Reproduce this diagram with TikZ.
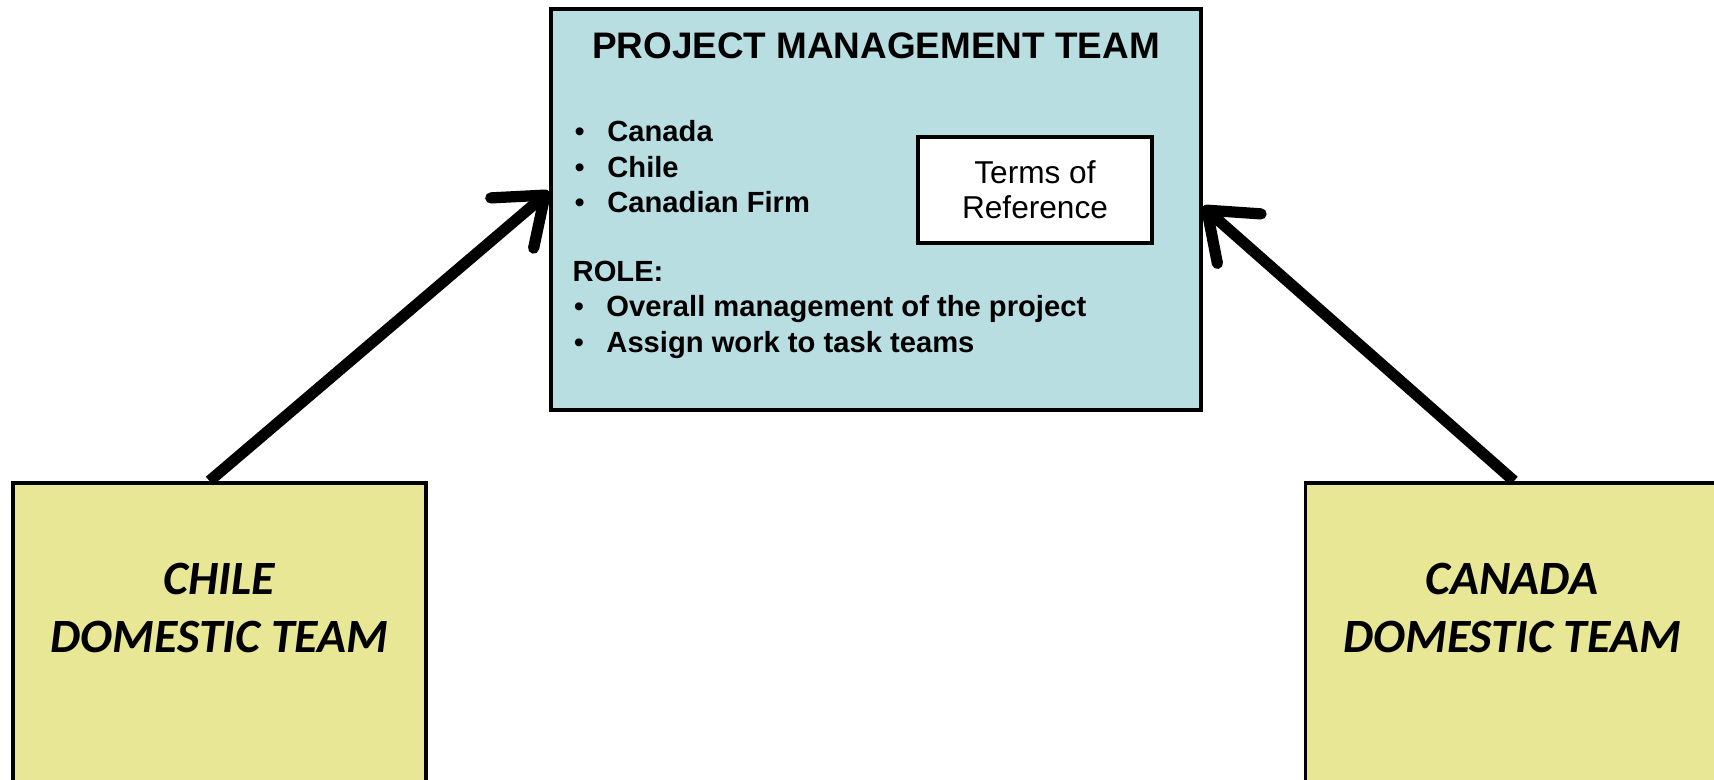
\documentclass[tikz,border=0pt]{standalone}
\usepackage{fontspec}
\setmainfont{Liberation Sans}
\newfontfamily\teamfont{Carlito}
\usetikzlibrary{positioning}
\usetikzlibrary{arrows.meta}

\definecolor{pmtblue}{RGB}{185,222,226}
\definecolor{teamyellow}{RGB}{232,231,150}

\newcommand{\pmtitem}[1]{\makebox[9.3pt][l]{\mdseries\textbullet}#1}

\begin{document}
\begin{tikzpicture}[
				teambox/.style={draw,line width=1pt,fill=teamyellow,
					minimum width=4.13cm,minimum height=4cm,anchor=north},
				teamtext/.style={font=\teamfont\bfseries\itshape\fontsize{13.6}{16.4}\selectfont,
					align=center},
				listtext/.style={font=\bfseries\fontsize{8.3}{10.1}\selectfont,
					align=left,inner sep=0pt,anchor=north west},
				link/.style={line width=3.2pt,
					-{Straight Barb[length=4.3mm,width=6.6mm,round]}}]
			\useasboundingbox (0,0) rectangle (17.14,7.80);
			\clip (0,0) rectangle (17.14,7.80);
			% management team
			\node[draw,line width=1pt,fill=pmtblue,minimum width=6.5cm,minimum height=4.01cm]
				(pmt) at (8.76,5.705) {};
			\node[font=\bfseries\fontsize{10.5}{12}\selectfont,inner sep=0pt,
				below=0.25cm of pmt.north] (title) {PROJECT MANAGEMENT TEAM};
			\node[listtext] (members) at (5.74,6.60)
				{\pmtitem{Canada}\\ \pmtitem{Chile}\\ \pmtitem{Canadian Firm}};
			\node[listtext] (role) at (5.72,5.20)
				{ROLE:\\ \hspace*{0.3pt}\pmtitem{Overall management of the project}\\
				\hspace*{0.3pt}\pmtitem{Assign work to task teams}};
			\node[draw,line width=1.2pt,fill=white,minimum width=2.34cm,minimum height=1.06cm,
				align=center,font=\fontsize{9}{9.9}\selectfont] (tor) at (10.35,5.90)
				{Terms of\\Reference};
			% domestic teams
			\node[teambox] (chile) at (2.195,2.99) {};
			\node[teamtext] (chiletxt) at ([yshift=-1.27cm]chile.north) {CHILE\\DOMESTIC TEAM};
			\node[teambox] (canada) at (15.12,2.99) {};
			\node[teamtext] (canadatxt) at ([yshift=-1.27cm]canada.north) {CANADA\\DOMESTIC TEAM};
			% reporting lines
			\draw[link] ([xshift=-1mm]chile.north) -- ([yshift=0.18cm]pmt.west);
			\draw[link] ([xshift=0.2mm]canada.north) -- ([yshift=0.03cm]pmt.east);
			\end{tikzpicture}
\end{document}
